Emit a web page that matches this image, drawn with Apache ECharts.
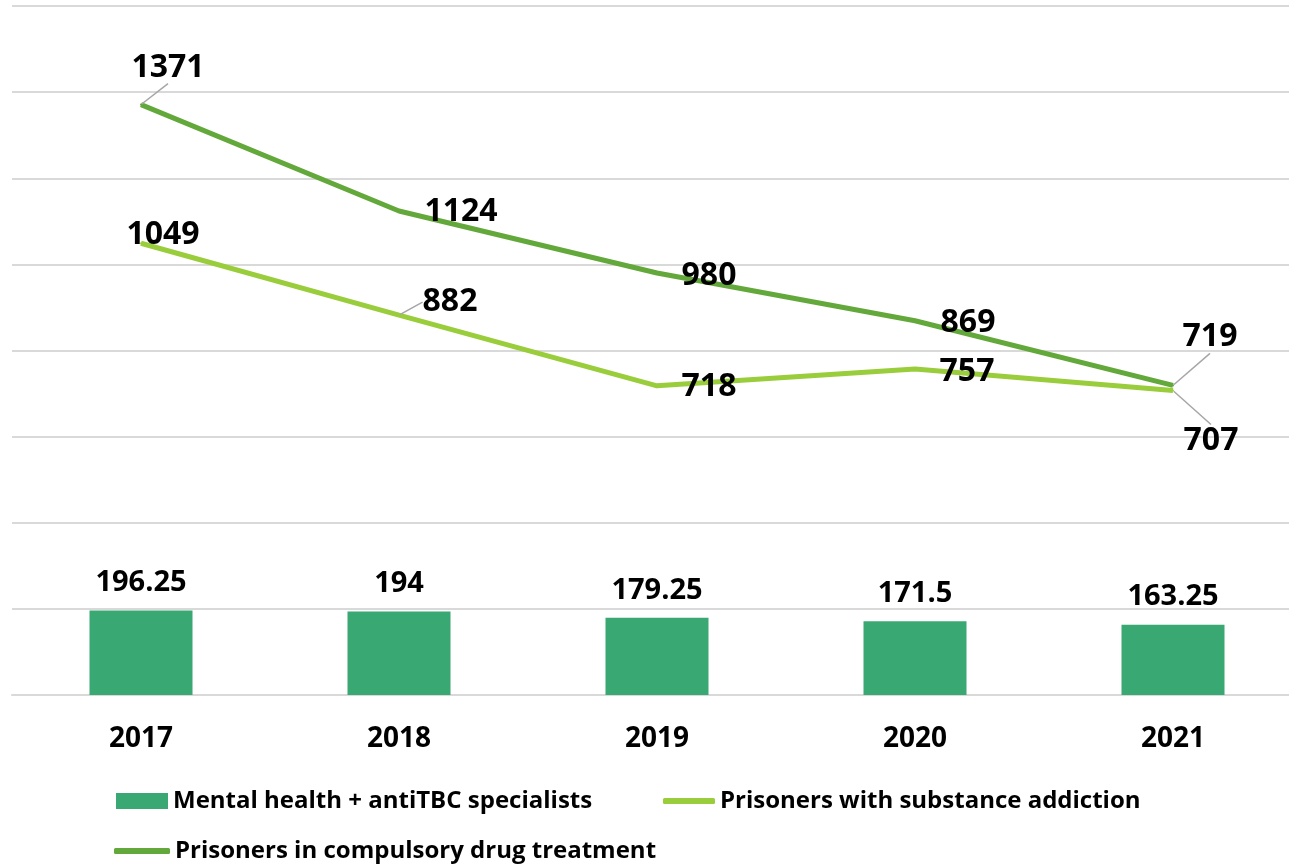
<!DOCTYPE html>
<html>
<head>
<meta charset="utf-8">
<script src="https://cdn.jsdelivr.net/npm/echarts@6/dist/echarts.min.js"></script>
<style>
  html, body { margin: 0; padding: 0; background: #fff; }
  #chart { width: 1289px; height: 866px; }
</style>
</head>
<body>
<div id="chart"></div>
<script>
const years = ['2017', '2018', '2019', '2020', '2021'];
const specialists = [196.25, 194, 179.25, 171.5, 163.25];
const addiction = [1049, 882, 718, 757, 707];
const compulsory = [1371, 1124, 980, 869, 719];

// where each line label sits relative to its point, and which get a leader line
const compulsoryLabelShift = [[27, -37], [62, 1], [52, 3], [53, 2], [37, -48]];
const compulsoryLeader = [true, false, false, false, true];
const addictionLabelShift = [[22, -8], [51, -13], [52, 1], [52, 3], [38, 50]];
const addictionLeader = [false, true, false, false, true];

const font = '"Open Sans", "Noto Sans", sans-serif';

let chart = echarts.init(document.getElementById('chart'));

function lineData(values, leaders) {
    return values.map((v, i) => ({
        value: v,
        labelLine: { show: leaders[i] }
    }));
}

function shiftLayout(shifts) {
    return (params) => {
        let s = shifts[params.dataIndex];
        return {
            x: params.rect.x + params.rect.width / 2 + s[0],
            y: params.rect.y + params.rect.height / 2 + s[1],
            align: 'center',
            verticalAlign: 'middle'
        };
    };
}

let lineLabel = {
    show: true,
    color: '#000',
    fontFamily: font,
    fontWeight: 'bold',
    fontSize: 32
};

let legendText = { fontFamily: font, fontWeight: 'bold', fontSize: 24, color: '#000' };

function legendBox(name, left, top, w, h, icon) {
    return {
        left: left,
        top: top,
        itemWidth: w,
        itemHeight: h,
        itemGap: 0,
        textStyle: legendText,
        data: [{ name: name, icon: icon }]
    };
}

let options = {
    animation: false,
    grid: { left: 12, width: 1290, top: 6, bottom: 171, containLabel: false, outerBoundsMode: 'none' },
    legend: [
        legendBox('Mental health + antiTBC specialists', 111, 784, 52, 16, 'rect'),
        legendBox('Prisoners with substance addiction', 658, 784, 52, 6, 'roundRect'),
        legendBox('Prisoners in compulsory drug treatment', 109, 834, 56, 6, 'roundRect')
    ],
    xAxis: {
        type: 'category',
        data: years,
        axisLine: { lineStyle: { color: '#d9d9d9', width: 2 } },
        axisTick: { show: false },
        axisLabel: {
            margin: 30,
            color: '#000',
            fontFamily: font,
            fontWeight: 'bold',
            fontSize: 28
        }
    },
    yAxis: {
        type: 'value',
        min: 0,
        max: 1600,
        interval: 200,
        axisLabel: { show: false },
        axisLine: { show: false },
        axisTick: { show: false },
        splitLine: { lineStyle: { color: '#d9d9d9', width: 2 } }
    },
    series: [
        {
            name: 'Mental health + antiTBC specialists',
            type: 'bar',
            data: specialists,
            barWidth: 103,
            itemStyle: { color: '#3aa873' },
            label: {
                show: true,
                position: 'top',
                distance: 13,
                color: '#000',
                fontFamily: font,
                fontWeight: 'bold',
                fontSize: 29
            }
        },
        {
            name: 'Prisoners with substance addiction',
            type: 'line',
            data: lineData(addiction, addictionLeader),
            symbol: 'circle',
            symbolSize: 2,
            itemStyle: { color: '#9acd3c' },
            lineStyle: { color: '#9acd3c', width: 5 },
            label: lineLabel,
            labelLayout: shiftLayout(addictionLabelShift),
            labelLine: { show: false, lineStyle: { color: '#a6a6a6', width: 1.5 } }
        },
        {
            name: 'Prisoners in compulsory drug treatment',
            type: 'line',
            data: lineData(compulsory, compulsoryLeader),
            symbol: 'circle',
            symbolSize: 2,
            itemStyle: { color: '#63a83a' },
            lineStyle: { color: '#63a83a', width: 5 },
            label: lineLabel,
            labelLayout: shiftLayout(compulsoryLabelShift),
            labelLine: { show: false, lineStyle: { color: '#a6a6a6', width: 1.5 } }
        }
    ]
};

chart.setOption(options);
</script>
</body>
</html>
